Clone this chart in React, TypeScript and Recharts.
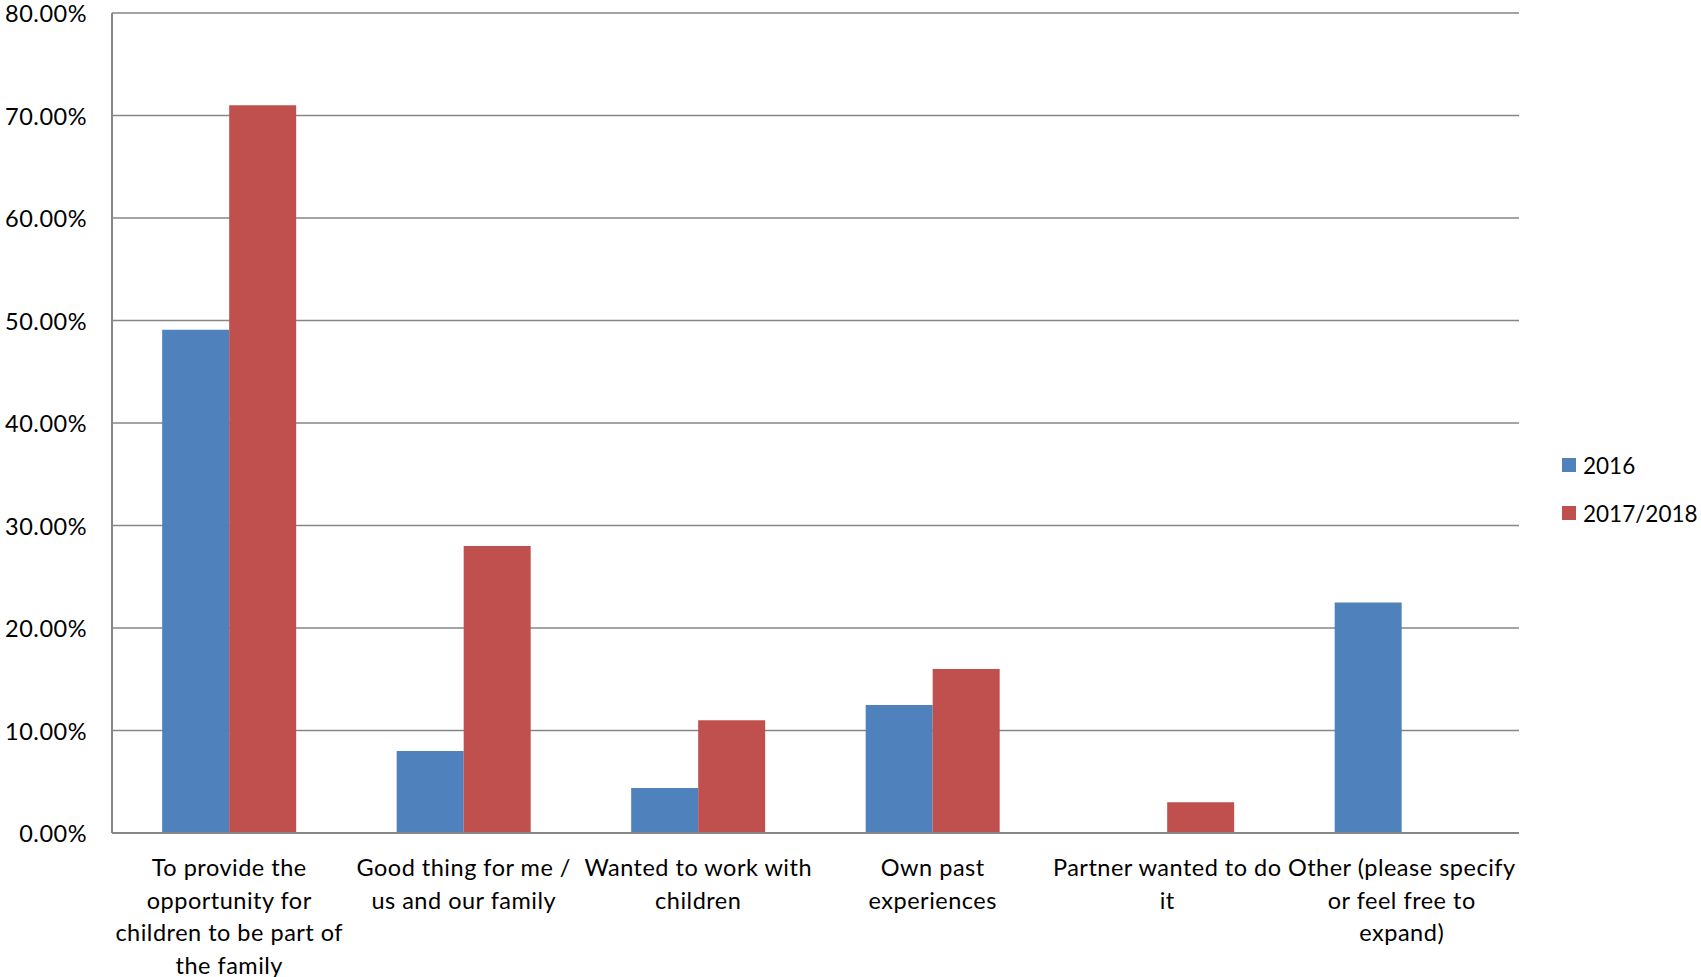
import React from "react";
import { BarChart, Bar, XAxis, YAxis, CartesianGrid } from "recharts";

const categories = [
  "To provide the opportunity for children to be part of the family",
  "Good thing for me / us and our family",
  "Wanted to work with children",
  "Own past experiences",
  "Partner wanted to do it",
  "Other (please specify or feel free to expand)",
];

// wrapped the way the original chart wraps them
const categoryLines = [
  ["To provide the", "opportunity for", "children to be part of", "the family"],
  ["Good thing for me /", "us and our family"],
  ["Wanted to work with", "children"],
  ["Own past", "experiences"],
  ["Partner wanted to do", "it"],
  ["Other (please specify", "or feel free to", "expand)"],
];

const values2016 = [0.491, 0.08, 0.044, 0.125, 0, 0.225];
const values2017 = [0.71, 0.28, 0.11, 0.16, 0.03, 0];

const yTicks = [0, 0.1, 0.2, 0.3, 0.4, 0.5, 0.6, 0.7, 0.8];

const BLUE = "#4F81BD";
const RED = "#C0504D";
const GREY = "#868686";
const FONT = "Lato, 'Noto Sans', sans-serif";
const FS = 23.5;
const LS = 0.5;

const data = categories.map((name, i) => ({
  name,
  y2016: values2016[i],
  y2017: values2017[i],
}));

const XTick = (props: any) => {
  const { x, y, index } = props;
  const lines = categoryLines[index] || [];
  return (
    <g>
      {lines.map((l, i) => (
        <text
          key={i}
          x={x}
          y={y + 32 + i * 32.5}
          textAnchor="middle"
          dominantBaseline="central"
          fontSize={FS}
          letterSpacing={LS}
          fontFamily={FONT}
          fill="#000"
        >
          {l}
        </text>
      ))}
    </g>
  );
};

const YTick = (props: any) => {
  const { x, y, payload } = props;
  return (
    <text
      x={x - 23}
      y={y}
      textAnchor="end"
      dominantBaseline="central"
      fontSize={FS}
      letterSpacing={LS}
      fontFamily={FONT}
      fill="#000"
    >
      {(payload.value * 100).toFixed(2) + "%"}
    </text>
  );
};

export default function App() {
  return (
    <div
      style={{
        position: "absolute",
        left: 0,
        top: 0,
        width: 1701,
        height: 977,
        background: "#fff",
        overflow: "hidden",
      }}
    >
      <BarChart
        width={1701}
        height={977}
        data={data}
        margin={{ top: 13, right: 182, bottom: 0, left: 0 }}
        barCategoryGap="21.4%"
        barGap={0}
      >
        <CartesianGrid
          horizontal
          vertical={false}
          stroke={GREY}
          strokeWidth={1.5}
        />
        <XAxis
          dataKey="name"
          height={144}
          interval={0}
          tickLine={false}
          tickSize={0}
          axisLine={{ stroke: GREY, strokeWidth: 2 }}
          tick={<XTick />}
        />
        <YAxis
          width={112}
          domain={[0, 0.8]}
          ticks={yTicks}
          tickLine={false}
          tickSize={0}
          axisLine={{ stroke: GREY, strokeWidth: 2 }}
          tick={<YTick />}
        />
        <Bar dataKey="y2016" fill={BLUE} isAnimationActive={false} />
        <Bar dataKey="y2017" fill={RED} isAnimationActive={false} />
      </BarChart>
      <div
        style={{
          position: "absolute",
          left: 1562,
          top: 451,
          fontFamily: FONT,
          fontSize: 22.5,
          color: "#000",
          whiteSpace: "nowrap",
        }}
      >
        {[
          { label: "2016", color: BLUE },
          { label: "2017/2018", color: RED },
        ].map((item) => (
          <div
            key={item.label}
            style={{
              display: "flex",
              alignItems: "center",
              height: 28,
              marginBottom: 20,
            }}
          >
            <span
              style={{
                display: "inline-block",
                width: 14,
                height: 14,
                background: item.color,
                marginRight: 7,
              }}
            />
            <span>{item.label}</span>
          </div>
        ))}
      </div>
    </div>
  );
}
